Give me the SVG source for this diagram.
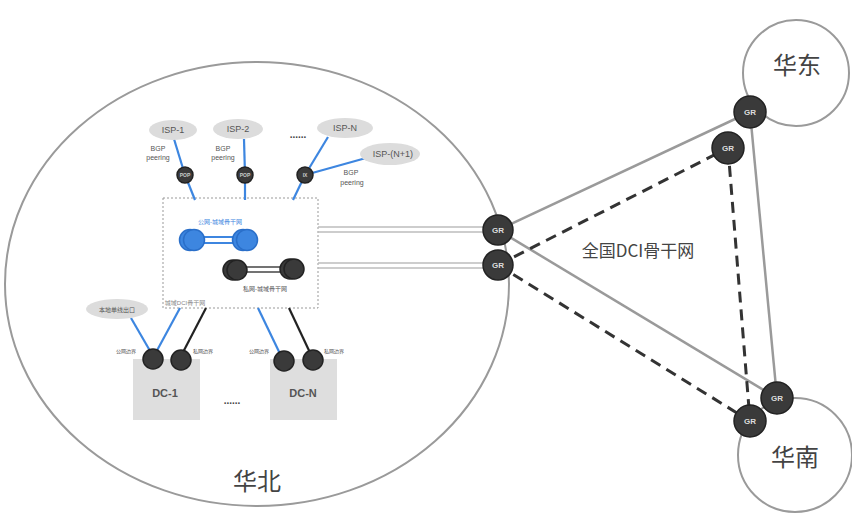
<svg xmlns="http://www.w3.org/2000/svg" width="852" height="515" viewBox="0 0 852 515">
<style>
.region{fill:#fff;stroke:#9a9a9a;stroke-width:2}
.rlabel{font-family:"Noto Sans CJK SC","Liberation Sans",sans-serif;font-size:24px;fill:#444;text-anchor:middle}
.gr circle{fill:#3a3a3a;stroke:#222;stroke-width:1.5}
.gr text{font-family:"Liberation Sans",sans-serif;font-size:8px;font-weight:bold;fill:#ddd;text-anchor:middle}
.isp ellipse{fill:#dcdcdc;stroke:none}
.isp text,.sm{font-family:"Liberation Sans","Noto Sans CJK SC",sans-serif;fill:#555;text-anchor:middle}
.isp text{font-size:9px}
.sm{font-size:6px}
.node circle{fill:#3a3a3a;stroke:#222;stroke-width:1.5}
.node text{font-family:"Liberation Sans",sans-serif;font-size:5px;font-weight:bold;fill:#ccc;text-anchor:middle}
.bnode circle{fill:#3d86e0;stroke:#2a6fc9;stroke-width:1.5}
.blue{stroke:#3d86e0;stroke-width:2.2;fill:none}
.black{stroke:#222;stroke-width:2.2;fill:none}
.solid{stroke:#9a9a9a;stroke-width:2.5;fill:none}
.dash{stroke:#333;stroke-width:3;stroke-dasharray:11 7;fill:none}
.dbl{stroke:#bdbdbd;stroke-width:1.5;fill:none}
.dc rect{fill:#dedede;stroke:none}
.dc text{font-family:"Liberation Sans",sans-serif;font-size:11px;font-weight:bold;fill:#555;text-anchor:middle}
</style>

<g id="region-huabei">
<ellipse class="region" cx="257" cy="284" rx="252" ry="222"/>
<text class="rlabel" x="257" y="490">华北</text>
</g>
<g id="region-huadong">
<circle class="region" cx="796" cy="73" r="53"/>
<text class="rlabel" x="797" y="74">华东</text>
</g>
<g id="region-huanan">
<circle class="region" cx="795" cy="455" r="57"/>
<text class="rlabel" x="795" y="466">华南</text>
</g>

<g id="dci-metro-box">
<rect x="163" y="198" width="155" height="110" fill="none" stroke="#999" stroke-width="1" stroke-dasharray="2 2"/>
<text class="sm" x="185" y="305" style="fill:#888">城域DCI骨干网</text>
</g>

<g id="connectors">
<line class="solid" x1="498" y1="230" x2="750" y2="112"/>
<line class="solid" x1="750" y1="112" x2="777" y2="398"/>
<line class="solid" x1="498" y1="230" x2="777" y2="398"/>
<line class="dash" x1="498" y1="265" x2="728" y2="148"/>
<line class="dash" x1="728" y1="148" x2="750" y2="421"/>
<line class="dash" x1="498" y1="265" x2="750" y2="421"/>
<line class="dbl" x1="318" y1="227" x2="484" y2="227"/>
<line class="dbl" x1="318" y1="232" x2="484" y2="232"/>
<line class="dbl" x1="318" y1="263" x2="484" y2="263"/>
<line class="dbl" x1="318" y1="268" x2="484" y2="268"/>
<line class="blue" x1="174" y1="139" x2="185" y2="175"/>
<line class="blue" x1="185" y1="175" x2="195" y2="200"/>
<line class="blue" x1="244" y1="139" x2="245" y2="175"/>
<line class="blue" x1="245" y1="175" x2="245" y2="200"/>
<line class="blue" x1="328" y1="137" x2="305" y2="175"/>
<line class="blue" x1="366" y1="158" x2="305" y2="175"/>
<line class="blue" x1="305" y1="175" x2="293" y2="200"/>
<line class="blue" x1="193" y1="237" x2="244" y2="237"/>
<line class="blue" x1="193" y1="243" x2="244" y2="243"/>
<line x1="236" y1="267" x2="292" y2="267" stroke="#444" stroke-width="1.3"/>
<line x1="236" y1="272" x2="292" y2="272" stroke="#444" stroke-width="1.3"/>
<line class="blue" x1="131" y1="318" x2="153" y2="356"/>
<line class="blue" x1="180" y1="308" x2="154" y2="356"/>
<line class="black" x1="206" y1="308" x2="180" y2="358"/>
<line class="blue" x1="258" y1="308" x2="283" y2="360"/>
<line class="black" x1="289" y1="308" x2="313" y2="359"/>
</g>

<g id="public-metro">
<g class="bnode">
<circle cx="190" cy="240" r="10.5"/>
<circle cx="194" cy="240" r="10.5"/>
<circle cx="243" cy="240" r="10.5"/>
<circle cx="247" cy="240" r="10.5"/>
</g>
<text class="sm" x="220" y="224" style="fill:#3d86e0">公网-城域骨干网</text>
</g>
<g id="private-metro">
<g class="node">
<circle cx="233" cy="270" r="10"/>
<circle cx="237" cy="270" r="10"/>
<circle cx="290" cy="269" r="10"/>
<circle cx="294" cy="269" r="10"/>
</g>
<text class="sm" x="265" y="291">私网-城域骨干网</text>
</g>

<g id="isp-1" class="isp"><ellipse cx="173" cy="130" rx="24" ry="10"/><text x="173" y="133">ISP-1</text></g>
<g id="isp-2" class="isp"><ellipse cx="238" cy="129" rx="25" ry="10"/><text x="238" y="132">ISP-2</text></g>
<g id="isp-n" class="isp"><ellipse cx="345" cy="128" rx="28" ry="10"/><text x="345" y="131">ISP-N</text></g>
<g id="isp-n1" class="isp"><ellipse cx="390" cy="154" rx="30" ry="11"/><text x="393" y="157">ISP-(N+1)</text></g>
<text class="sm" x="298" y="138" style="font-size:10px;font-weight:bold;fill:#444">......</text>

<g id="bgp-labels">
<text class="sm" x="158" y="151" style="font-size:7px">BGP</text>
<text class="sm" x="158" y="160" style="font-size:7px">peering</text>
<text class="sm" x="223" y="151" style="font-size:7px">BGP</text>
<text class="sm" x="223" y="160" style="font-size:7px">peering</text>
<text class="sm" x="351" y="175" style="font-size:7px">BGP</text>
<text class="sm" x="352" y="185" style="font-size:7px">peering</text>
</g>

<g id="pop-1" class="node"><circle cx="185" cy="175" r="8"/><text x="185" y="177">POP</text></g>
<g id="pop-2" class="node"><circle cx="245" cy="175" r="8"/><text x="245" y="177">POP</text></g>
<g id="ix" class="node"><circle cx="305" cy="175" r="8"/><text x="305" y="177">IX</text></g>

<g id="local-exit" class="isp"><ellipse cx="117" cy="309" rx="31" ry="10"/><text x="117" y="312" style="font-size:6px">本地单线出口</text></g>

<g id="dc-1" class="dc">
<rect x="133" y="359" width="67" height="61"/>
<text x="165" y="397">DC-1</text>
</g>
<g id="dc-n" class="dc">
<rect x="270" y="359" width="67" height="61"/>
<text x="303" y="397">DC-N</text>
</g>
<text class="sm" x="232" y="404" style="font-size:10px;font-weight:bold;fill:#444">......</text>

<g id="dc1-pub" class="node"><circle cx="153" cy="359" r="10"/></g>
<g id="dc1-priv" class="node"><circle cx="181" cy="360" r="10"/></g>
<g id="dcn-pub" class="node"><circle cx="284" cy="361" r="10"/></g>
<g id="dcn-priv" class="node"><circle cx="313" cy="360" r="10"/></g>
<g id="edge-labels">
<text class="sm" x="126" y="353" style="font-size:5px">公网边界</text>
<text class="sm" x="203" y="353" style="font-size:5px">私网边界</text>
<text class="sm" x="259" y="353" style="font-size:5px">公网边界</text>
<text class="sm" x="334" y="353" style="font-size:5px">私网边界</text>
</g>

<g id="gr-w1" class="gr"><circle cx="498" cy="230" r="15"/><text x="498" y="233">GR</text></g>
<g id="gr-w2" class="gr"><circle cx="498" cy="265" r="15"/><text x="498" y="268">GR</text></g>
<g id="gr-e1" class="gr"><circle cx="750" cy="112" r="16"/><text x="750" y="115">GR</text></g>
<g id="gr-e2" class="gr"><circle cx="728" cy="148" r="16"/><text x="728" y="151">GR</text></g>
<g id="gr-s1" class="gr"><circle cx="777" cy="398" r="16"/><text x="777" y="401">GR</text></g>
<g id="gr-s2" class="gr"><circle cx="750" cy="421" r="16"/><text x="750" y="424">GR</text></g>

<text id="national-label" x="638" y="257" style="font-family:'Noto Sans CJK SC','Liberation Sans',sans-serif;font-size:17px;fill:#444;text-anchor:middle">全国DCI骨干网</text>
</svg>
